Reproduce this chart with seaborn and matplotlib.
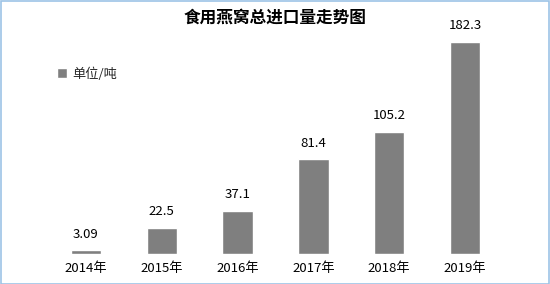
import matplotlib
matplotlib.use("Agg")
import matplotlib.pyplot as plt
import seaborn as sns
import pandas as pd
from matplotlib.patches import Rectangle

years = ["2014年", "2015年", "2016年", "2017年", "2018年", "2019年"]
values = [3.09, 22.5, 37.1, 81.4, 105.2, 182.3]
value_labels = ["3.09", "22.5", "37.1", "81.4", "105.2", "182.3"]
title = "食用燕窝总进口量走势图"
legend_label = "单位/吨"

sns.set_theme(style="white")
plt.rcParams['font.family'] = ['Noto Sans CJK SC', 'DejaVu Sans']

df = pd.DataFrame({"year": years, "value": values})

fig = plt.figure(figsize=(5.5, 2.84), dpi=100)
W, H = 550, 284
ax_left, ax_right = 48, 503
ax_bottom, ax_top = 254, 21.4
ax = fig.add_axes([ax_left / W, 1 - ax_bottom / H, (ax_right - ax_left) / W, (ax_bottom - ax_top) / H])

sns.barplot(data=df, x="year", y="value", color="#7f7f7f", width=0.4, saturation=1, ax=ax, label=legend_label)
ax.set_xlim(-0.5, 5.5)
ax.set_ylim(0, 200)
for s in ax.spines.values():
    s.set_visible(False)
ax.set_yticks([])
ax.set_xlabel("")
ax.set_ylabel("")
ax.tick_params(axis='x', length=0, labelsize=9.5, colors="#000000", pad=6)

for i, (v, lab) in enumerate(zip(values, value_labels)):
    ax.annotate(lab, (i, v), xytext=(0, 7), textcoords="offset points", ha="center", va="bottom", fontsize=9.5, color="#000000")

leg = ax.legend(loc="upper left", bbox_to_anchor=((52 - ax_left) / (ax_right - ax_left), (ax_bottom - 62) / (ax_bottom - ax_top)),
                frameon=False, fontsize=9.5, handlelength=0.7, handleheight=0.7, handletextpad=0.4, borderaxespad=0)

fig.text(0.5, 1 - 18 / H, title, ha="center", va="center", fontsize=12, fontweight="bold", color="#000000")

fig.patches.append(Rectangle((0.5 / W, 0.5 / H), 1 - 1.5 / W, 1 - 1.5 / H, transform=fig.transFigure,
                             fill=False, edgecolor="#9dc3e6", linewidth=1.2))

fig.savefig("out.png", dpi=100)
